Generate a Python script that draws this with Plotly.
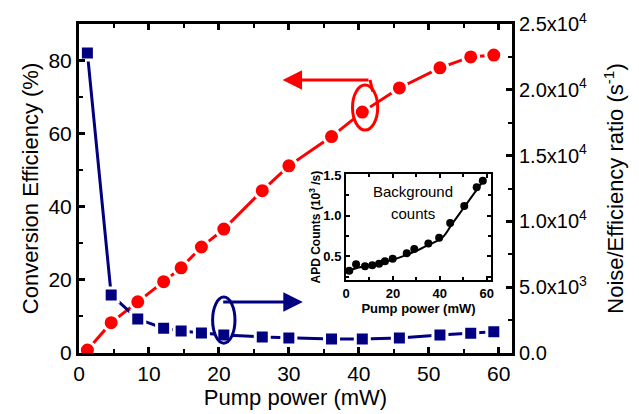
import plotly.graph_objects as go

# ---- data ----
pump_power = [1.2, 4.6, 8.4, 12.1, 14.6, 17.5, 20.7, 26.2, 30.0, 36.1, 40.5, 45.8, 51.6, 56.0, 59.3]
conversion_eff = [0.8, 8.3, 14.0, 19.5, 23.3, 29.0, 33.9, 44.4, 51.2, 59.2, 65.9, 72.5, 78.0, 81.0, 81.5]
noise_ratio = [22800, 4410, 2580, 1880, 1670, 1520, 1370, 1220, 1140, 1060, 1060, 1140, 1370, 1500, 1620]

inset_power = [1.4, 4.3, 8.1, 11.2, 14.1, 16.6, 19.9, 25.9, 29.1, 35.1, 39.7, 44.4, 50.4, 55.7, 58.3]
inset_counts = [0.325, 0.405, 0.38, 0.39, 0.41, 0.44, 0.47, 0.54, 0.59, 0.66, 0.73, 0.91, 1.12, 1.35, 1.43]
inset_fit_x = [0, 5, 10, 15, 20, 25, 30, 35, 41, 45, 50, 55, 59]
inset_fit_y = [0.31, 0.36, 0.39, 0.42, 0.46, 0.51, 0.57, 0.64, 0.73, 0.89, 1.09, 1.29, 1.45]

x_ticks = [0, 10, 20, 30, 40, 50, 60]
left_ticks = [0, 20, 40, 60, 80]
right_ticks = [0, 5000, 10000, 15000, 20000, 25000]
right_ticktext = ["0.0", "5.0x10<sup>3</sup>", "1.0x10<sup>4</sup>", "1.5x10<sup>4</sup>",
                  "2.0x10<sup>4</sup>", "2.5x10<sup>4</sup>"]

RED = "#FF0000"
BLUE = "#000080"
FONT = "Arial, Liberation Sans, sans-serif"

fig = go.Figure()

fig.add_trace(go.Scatter(
    x=pump_power, y=conversion_eff, mode="lines+markers",
    line=dict(color=RED, width=3),
    marker=dict(symbol="circle", size=16, color=RED, line=dict(color="white", width=3)),
    yaxis="y", xaxis="x", showlegend=False))

fig.add_trace(go.Scatter(
    x=pump_power, y=noise_ratio, mode="lines+markers",
    line=dict(color=BLUE, width=3),
    marker=dict(symbol="square", size=14, color=BLUE, line=dict(color="white", width=3)),
    yaxis="y2", xaxis="x", showlegend=False))

# inset
fig.add_trace(go.Scatter(
    x=inset_fit_x, y=inset_fit_y, mode="lines",
    line=dict(color="black", width=2, shape="spline"),
    xaxis="x2", yaxis="y3", showlegend=False))
fig.add_trace(go.Scatter(
    x=inset_power, y=inset_counts, mode="markers",
    marker=dict(symbol="circle", size=8, color="black"),
    xaxis="x2", yaxis="y3", showlegend=False))

axis_common = dict(showgrid=False, zeroline=False, showline=True, linecolor="black",
                   ticks="inside", tickcolor="black", automargin=False)

fig.update_layout(
    width=631, height=406,
    margin=dict(l=71, r=127, t=16, b=61, autoexpand=False),
    paper_bgcolor="white", plot_bgcolor="white",
    font=dict(family=FONT, color="black"),
    xaxis=dict(**axis_common, range=[0, 61.9], tickvals=x_ticks, linewidth=3,
               mirror="ticks", ticklen=6, tickwidth=3,
               minor=dict(ticks="inside", dtick=5, tick0=0, ticklen=4, tickwidth=2, tickcolor="black"),
               tickfont=dict(size=21),
               title=dict(text="Pump power (mW)", font=dict(size=22), standoff=6),
               domain=[0, 1]),
    yaxis=dict(**axis_common, range=[0, 90], tickvals=left_ticks, linewidth=3,
               ticklen=6, tickwidth=3,
               minor=dict(ticks="inside", dtick=10, tick0=0, ticklen=4, tickwidth=2, tickcolor="black"),
               tickfont=dict(size=21),
               title=dict(text="Conversion Efficiency (%)", font=dict(size=22), standoff=4)),
    yaxis2=dict(**axis_common, range=[0, 25000], tickvals=right_ticks, ticktext=right_ticktext,
                overlaying="y", side="right", linewidth=3, ticklen=6, tickwidth=3,
                minor=dict(ticks="inside", dtick=2500, tick0=0, ticklen=4, tickwidth=2, tickcolor="black"),
                tickfont=dict(size=20),
                title=dict(text="Noise/Efficiency ratio (s<sup>-1</sup>)", font=dict(size=22), standoff=22)),
    xaxis2=dict(**axis_common, domain=[0.6166, 0.9515], anchor="y3", range=[0, 61.8],
                tickvals=[0, 20, 40, 60], linewidth=2, mirror="ticks", ticklen=4, tickwidth=2,
                minor=dict(ticks="inside", dtick=10, tick0=0, ticklen=3, tickwidth=1.5, tickcolor="black"),
                tickfont=dict(size=13, weight="bold"),
                title=dict(text="Pump power (mW)", font=dict(size=13, weight="bold"), standoff=2)),
    yaxis3=dict(**axis_common, domain=[0.2219, 0.5432], anchor="x2", range=[0.21, 1.51],
                tickvals=[0.5, 1.0, 1.5], ticktext=["0.5", "1.0", "1.5"], linewidth=2,
                mirror="ticks", ticklen=4, tickwidth=2,
                minor=dict(ticks="inside", dtick=0.25, tick0=0, ticklen=3, tickwidth=1.5, tickcolor="black"),
                tickfont=dict(size=13, weight="bold"),
                title=dict(text="APD Counts (10<sup>3</sup> /s)", font=dict(size=12, weight="bold"), standoff=0)),
)

# inset label
fig.add_annotation(text="Background", xref="x2", yref="y3", x=28.5, y=1.30,
                   showarrow=False, font=dict(size=15, family=FONT))
fig.add_annotation(text="counts", xref="x2", yref="y3", x=28.5, y=1.03,
                   showarrow=False, font=dict(size=15, family=FONT))

# ellipses marking the series
fig.add_shape(type="circle", xref="x", yref="y", x0=39.1, x1=42.7, y0=61.0, y1=73.3,
              line=dict(color=RED, width=3))
fig.add_shape(type="circle", xref="x", yref="y", x0=19.1, x1=22.3, y0=2.7, y1=15.3,
              line=dict(color=BLUE, width=3))
# connectors
fig.add_shape(type="line", xref="x", yref="y", x0=41.6, y0=74.7, x1=42.0, y1=71.5,
              line=dict(color=RED, width=3))
# arrows
fig.add_annotation(x=29.1, y=74.7, ax=41.6, ay=74.7, xref="x", yref="y", axref="x", ayref="y",
                   text="", showarrow=True, arrowhead=2, arrowsize=1.3, arrowwidth=3,
                   arrowcolor=RED, standoff=0, startstandoff=0)
fig.add_annotation(x=32.0, y=13.95, ax=20.4, ay=13.95, xref="x", yref="y", axref="x", ayref="y",
                   text="", showarrow=True, arrowhead=2, arrowsize=1.3, arrowwidth=3,
                   arrowcolor=BLUE, standoff=0, startstandoff=0)

fig.write_html("out.html")
